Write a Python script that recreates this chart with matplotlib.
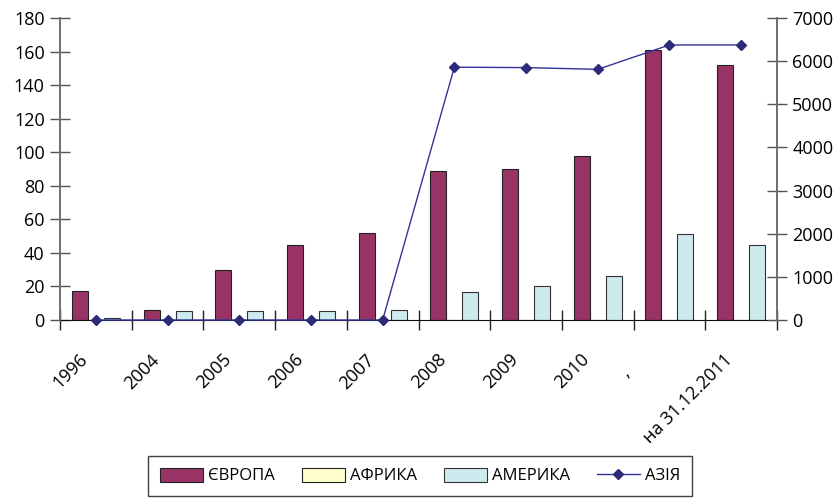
import numpy as np
import matplotlib
matplotlib.use("Agg")
import matplotlib.pyplot as plt

plt.rcParams['font.family'] = ['Open Sans', 'DejaVu Sans']

categories = ['1996', '2004', '2005', '2006', '2007', '2008', '2009', '2010',
              '', 'на 31.12.2011']
odd_label = ','
europe = [17.5, 6, 30, 45, 52, 89, 90, 97.5, 161, 152]
africa = [0, 0, 0, 0, 0, 0, 0, 0, 0, 0]
america = [1, 5.2, 5.6, 5.5, 5.8, 16.5, 20, 26.5, 51, 45]
asia = [0, 0, 0, 0, 0, 5860, 5850, 5810, 6375, 6375]

fig = plt.figure(figsize=(8.38, 5.01), dpi=100)
ax = fig.add_axes([60/838, 1-320/501, 717/838, 302/501])
ax2 = ax.twinx()

x = np.arange(len(categories))
w = 0.223
ax.bar(x - w, europe, w, color='#993366', edgecolor='#222222', linewidth=0.8, label='ЄВРОПА')
ax.bar(x, africa, w, color='#FFFFCC', edgecolor='#222222', linewidth=0.8, label='АФРИКА')
ax.bar(x + w, america, w, color='#CDEBEF', edgecolor='#333333', linewidth=0.8, label='АМЕРИКА')
ax2.plot(x, asia, color='#333399', lw=1, marker='D', ms=5, mfc='#2B2B7A', mec='#2B2B7A',
         label='АЗІЯ', clip_on=False, zorder=5)

ax.set_xlim(-0.5, len(categories) - 0.5)
ax.set_ylim(0, 180)
ax.set_yticks(range(0, 181, 20))
ax2.set_ylim(0, 7000)
ax2.set_yticks(range(0, 7001, 1000))

# labels sit a bit left of the category centre, like the Excel original
ax.set_xticks(x - 0.24)
ax.set_xticklabels(categories, rotation=45, ha='right',
                   rotation_mode='anchor', fontsize=13)
ax.set_xticks(np.arange(-0.5, len(categories), 1), minor=True)
ax.annotate(odd_label, xy=(8, 0), xycoords='data', xytext=(-44, -52),
            textcoords='offset pixels', fontsize=13, ha='center', va='center',
            rotation=45, annotation_clip=False)

ax.tick_params(axis='x', which='major', length=0, pad=22)
ax.tick_params(axis='x', which='minor', direction='inout', length=14, width=1, color='#222222')
ax.tick_params(axis='y', direction='inout', length=14, width=1, color='#555555', labelsize=13, pad=4)
ax2.tick_params(axis='y', direction='inout', length=14, width=1, color='#555555', labelsize=13, pad=4)

for a in (ax, ax2):
    a.spines['top'].set_visible(False)
    a.spines['left'].set_color('#6e6e6e')
    a.spines['right'].set_color('#6e6e6e')
    a.spines['left'].set_linewidth(1.2)
    a.spines['right'].set_linewidth(1.2)
    a.spines['bottom'].set_color('#111111')
ax2.spines['bottom'].set_visible(False)
ax.set_zorder(ax2.get_zorder() - 1)
ax.patch.set_visible(False)

h1, l1 = ax.get_legend_handles_labels()
h2, l2 = ax2.get_legend_handles_labels()
leg = fig.legend(h1 + h2, l1 + l2, loc='center', bbox_to_anchor=(420/838, 1-476/501),
                 ncol=4, frameon=True, fancybox=False, edgecolor='#111111', fontsize=12,
                 handlelength=2.6, handleheight=0.9, columnspacing=1.6, handletextpad=0.3,
                 borderpad=0.7)
leg.get_frame().set_linewidth(1)

fig.savefig('out.png', dpi=100)
